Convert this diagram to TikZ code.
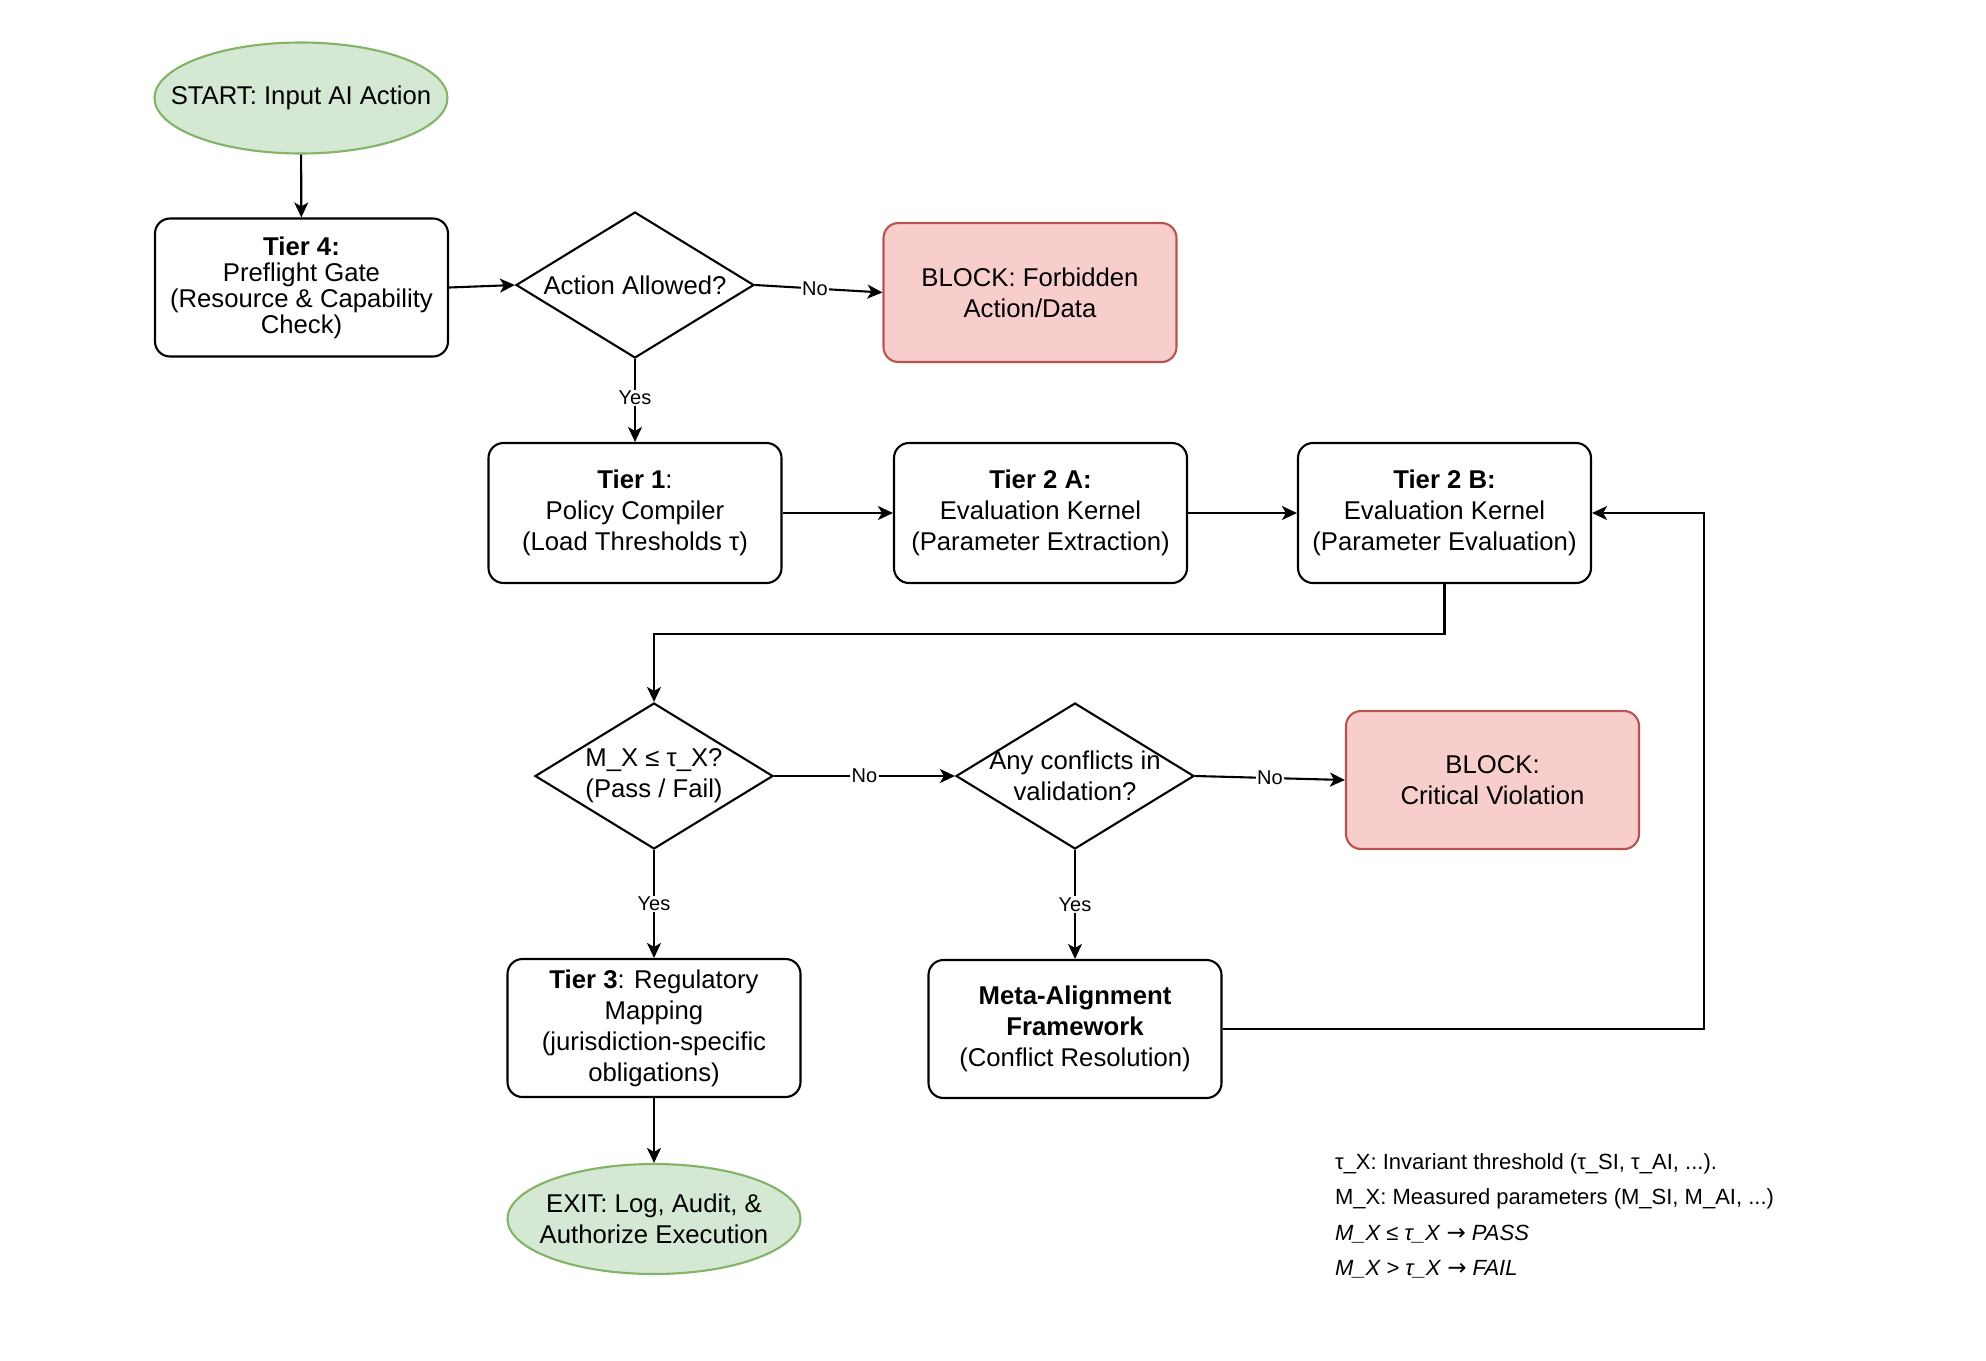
\documentclass[tikz,border=0pt]{standalone}
\usepackage{fontspec}
\setmainfont{Liberation Sans}
\newfontfamily\arrowfont{DejaVu Sans}
\usetikzlibrary{shapes.geometric,arrows.meta,calc}
\definecolor{gfill}{HTML}{D5E8D4}
\definecolor{gline}{HTML}{82B366}
\definecolor{rfill}{HTML}{F8CECC}
\definecolor{rline}{HTML}{B85450}
\begin{document}
\begin{tikzpicture}[x=1pt,y=-1pt,line width=2.1pt,
  mainfont/.style={font=\fontsize{25.7}{31}\selectfont},
  box/.style={draw, rounded corners=15pt, minimum width=293pt, minimum height=138pt, align=center, inner sep=0pt, mainfont},
  redbox/.style={box, draw=rline, fill=rfill},
  ell/.style={ellipse, draw=gline, fill=gfill, minimum width=293pt, minimum height=111pt, inner sep=0pt},
  dia/.style={diamond, draw, inner sep=0pt, minimum width=238pt, minimum height=146pt},
  dtext/.style={align=center, mainfont, inner sep=0pt},
  arr/.style={-{Stealth[length=15pt,width=14pt,inset=4pt]}},
  lab/.style={fill=white, font=\fontsize{20}{24}\selectfont, inner sep=1.5pt}]
\useasboundingbox[fill=white] (0,0) rectangle (1986,1360);

\node[ell, label={[dtext]center:START: Input AI Action}] (start) at (301,98) {};
\node[box, font=\fontsize{25.7}{26}\selectfont] (t4) at (301.5,287.5) {\textbf{Tier 4:}\\Preflight Gate\\(Resource \& Capability\\Check)};
\node[dia, label={[dtext]center:Action Allowed?}] (d1) at (635,285) {};
\node[redbox, minimum height=139pt] (b1) at (1030,292.5) {BLOCK: Forbidden\\Action/Data};

\node[box, minimum height=140pt] (t1) at (635,513) {\textbf{Tier 1}:\\Policy Compiler\\(Load Thresholds τ)};
\node[box, minimum height=140pt] (t2a) at (1040.5,513) {\textbf{Tier 2 A:}\\Evaluation Kernel\\(Parameter Extraction)};
\node[box, minimum height=140pt] (t2b) at (1444.5,513) {\textbf{Tier 2 B:}\\Evaluation Kernel\\(Parameter Evaluation)};

\node[dia, label={[dtext]center:M\_X ≤ τ\_X?\\(Pass / Fail)}] (d2) at (654,776) {};
\node[dia, label={[dtext]center:Any conflicts in\\validation?}] (d3) at (1075,776) {};
\node[redbox] (b2) at (1492.5,780) {BLOCK:\\Critical Violation};

\node[box] (t3) at (654,1028) {\textbf{Tier 3}: Regulatory\\Mapping\\(jurisdiction-specific\\obligations)};
\node[box] (meta) at (1075,1029) {\textbf{Meta-Alignment}\\\textbf{Framework}\\(Conflict Resolution)};
\node[ell, minimum height=110pt, label={[dtext]center:EXIT: Log, Audit, \&\\Authorize Execution}] (exit) at (654,1219) {};

\node[anchor=west, align=left, inner sep=0pt, font=\fontsize{22}{35.5}\selectfont] (legend) at (1334,1216)
  {τ\_X: Invariant threshold (τ\_SI, τ\_AI, ...).\\
   M\_X: Measured parameters (M\_SI, M\_AI, ...)\\
   \textit{M\_X ≤ τ\_X} {\arrowfont\fontsize{23}{35.5}\selectfont →} \textit{PASS}\\
   \textit{M\_X > τ\_X} {\arrowfont\fontsize{23}{35.5}\selectfont →} \textit{FAIL}};

\coordinate (r) at (1704,513);

\draw[arr] (start) -- (t4);
\draw[arr] (t4.east) -- (d1.west);
\draw[arr] (d1.east) -- node[lab, pos=0.47] {No} (b1.west);
\draw[arr] (d1.south) -- node[lab, pos=0.47] {Yes} (t1.north);
\draw[arr] (t1) -- (t2a);
\draw[arr] (t2a) -- (t2b);
\draw[arr] (t2b.south) -- ++(0,50) -| (d2.north);
\draw[arr] (d2.east) -- node[lab] {No} (d3.west);
\draw[arr] (d3.east) -- node[lab] {No} (b2.west);
\draw[arr] (d2.south) -- node[lab] {Yes} (t3.north);
\draw[arr] (d3.south) -- node[lab] {Yes} (meta.north);
\draw[arr] (t3) -- (exit);
\draw[arr] (meta.east) -- (meta.east -| r) -- (r) -- (t2b.east);
\end{tikzpicture}
\end{document}
